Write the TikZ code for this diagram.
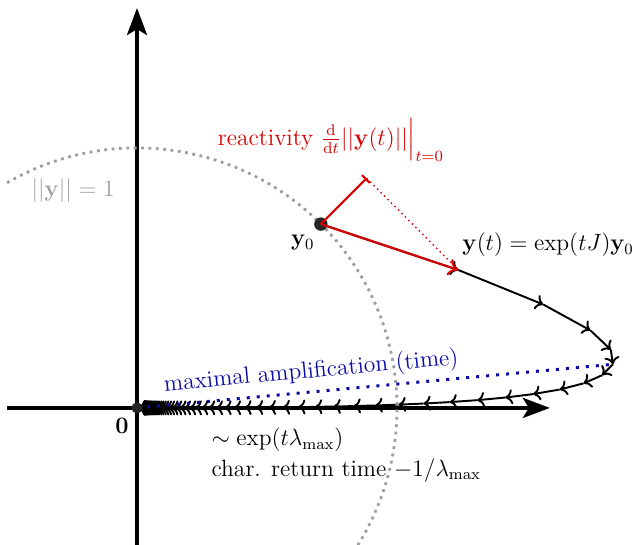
\documentclass[tikz,border=0pt]{standalone}
\definecolor{reactRed}{HTML}{D80000}
\definecolor{ampBlue}{HTML}{0A0AA5}
\definecolor{normGray}{HTML}{9E9E9E}
\usepackage{amsmath,amssymb}
\usepackage{tikz}
\usetikzlibrary{arrows.meta,positioning,calc}

\begin{document}
\begin{tikzpicture}[
    x=5.2cm, y=5.2cm,
    declare function={yx(\n)=0.7071*pow(0.9,\n)+4.0*(pow(0.9,\n)-pow(0.75,\n));
                      yy(\n)=0.7071*pow(0.75,\n);},
    axis/.style={line width=2.2pt, -{Stealth[length=5.4mm, width=4mm, inset=1.2mm]}},
    traj/.style={line width=1.1pt, -{To[length=1.5mm, width=3mm]}},
    react/.style={line width=1.2pt, reactRed},
    ampline/.style={line width=1.7pt, ampBlue, dash pattern=on 1.7pt off 4pt},
    unitcirc/.style={line width=1.6pt, normGray, dash pattern=on 1.6pt off 2.6pt},
    dotball/.style={circle, fill=black!85, inner sep=0pt, minimum size=#1},
    every node/.style={font=\fontsize{12}{15.7}\selectfont, scale=1.117}
  ]
    \useasboundingbox (-0.527,-0.527) rectangle (1.9115,1.569);
    \clip (-0.527,-0.527) rectangle (1.9115,1.569);

    % axes
    \coordinate (xstart) at (-0.50,0);
    \coordinate (xend) at (1.588,0);
    \coordinate (ystart) at (0,-0.55);
    \coordinate (yend) at (0,1.538);
    \draw[axis] (xstart) -- (xend);
    \draw[axis] (ystart) -- (yend);

    % trajectory y(t) = exp(tJ) y0, sampled
    \foreach \i in {0,...,70}
      \coordinate (p\i) at ({yx(\i)},{yy(\i)});
    \foreach \i [remember=\i as \j (initially 0)] in {1,...,70}
      \draw[traj] (p\j) -- (p\i);

    % unit circle
    \draw[unitcirc] (0,0) ++(120:1) arc[start angle=120, end angle=-40, radius=1];
    \node[text=normGray] (normlab) at (-0.246,0.835) {$||\mathbf{y}|| = 1$};

    % maximal amplification
    \draw[ampline] (0,0) -- node[sloped, above, pos=0.37, text=ampBlue] (amplab)
      {maximal amplification (time)} (p5);

    % points
    \node[dotball=2mm, scale=1] (origin) at (0,0) {};
    \node[dotball=2.4mm, scale=1] (yzero) at (p0) {};
    \node (zerolab) at (-0.058,-0.069) {$\mathbf{0}$};
    \node (yzerolab) at (0.638,0.635) {$\mathbf{y}_0$};

    % reactivity
    \coordinate (tip) at (p1);
    \coordinate (proj) at ($(origin.center)!(tip)!(yzero.center)$);
    \draw[react, -{Bar[width=2.2mm]}] (yzero.center) -- (proj);
    \draw[react, line width=0.8pt, dotted] (proj) -- (tip);
    \draw[react, -{To[length=2mm, width=3.4mm]}] (yzero.center) -- (tip);
    \node[text=reactRed] (reactlab) at (0.746,1.031)
      {reactivity $\frac{\mathrm{d}}{\mathrm{d}t}||\mathbf{y}(t)||\Big|_{t=0}$};

    \node[anchor=west, inner sep=0pt] (trajlab)
      at (1.25,0.627) {$\mathbf{y}(t) = \exp(tJ)\mathbf{y}_0$};

    % return
    \node[anchor=north west, align=left] (returnlab) at (0.26,-0.05)
      {$\sim\exp(t\lambda_{\max})$\\char. return time $-1/\lambda_{\max}$};
  \end{tikzpicture}
\end{document}
